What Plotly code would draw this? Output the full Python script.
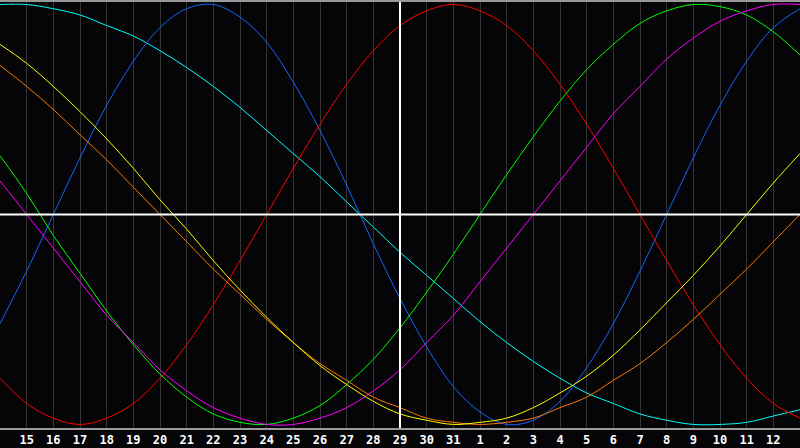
import plotly.graph_objs as go

# Days shown on the chart (0 = the 14th, 30 = the 13th of next month)
days = list(range(0, 31))
tick_pos = list(range(1, 30))
day_labels = ['15', '16', '17', '18', '19', '20', '21', '22', '23', '24', '25', '26', '27', '28',
              '29', '30', '31', '1', '2', '3', '4', '5', '6', '7', '8', '9', '10', '11', '12']

# Cycle values (percent), one per day
red = [-78, -90, -97, -100, -97, -90, -78, -62, -43, -22, 0, 22, 43, 62, 78, 90,
       97, 100, 97, 90, 78, 62, 43, 22, 0, -22, -43, -62, -78, -90, -97]
blue = [-52, -27, 0, 27, 52, 73, 89, 98, 100, 94, 82, 63, 40, 14, -14, -40,
        -63, -82, -94, -100, -98, -89, -73, -52, -27, 0, 27, 52, 73, 89, 98]
green = [28, 10, -10, -28, -46, -62, -76, -87, -95, -99, -100, -97, -91, -81, -69, -54,
         -37, -19, 0, 19, 37, 54, 69, 81, 91, 97, 100, 99, 95, 87, 76]
magenta = [16, 0, -16, -32, -48, -61, -74, -84, -92, -97, -100, -100, -97, -92, -84, -74,
           -61, -48, -32, -16, 0, 16, 32, 48, 61, 74, 84, 92, 97, 100, 100]
yellow = [81, 72, 61, 49, 36, 22, 7, -7, -22, -36, -49, -61, -72, -81, -89, -95,
          -98, -100, -99, -97, -92, -85, -77, -67, -55, -42, -29, -15, 0, 15, 29]
orange = [71, 61, 50, 38, 26, 13, 0, -13, -26, -38, -50, -61, -71, -79, -87, -92,
          -97, -99, -100, -99, -97, -92, -87, -79, -71, -61, -50, -38, -26, -13, 0]
cyan = [100, 100, 98, 95, 90, 85, 78, 70, 61, 51, 40, 29, 18, 6, -6, -18,
        -29, -40, -51, -61, -70, -78, -85, -90, -95, -98, -100, -100, -99, -96, -93]

series = [
    (cyan, '#00ffff'),
    (blue, '#1166ff'),
    (red, '#ff0000'),
    (green, '#00ff00'),
    (magenta, '#ff00ff'),
    (orange, '#ff7700'),
    (yellow, '#ffff00'),
]

fig = go.Figure()
for vals, col in series:
    fig.add_trace(go.Scatter(x=days, y=vals, mode='lines',
                             line=dict(color=col, width=1, shape='spline'),
                             showlegend=False, hoverinfo='skip'))

# white cross: zero line and "today"
fig.add_shape(type='line', x0=0, x1=30, y0=0, y1=0, line=dict(color='white', width=2))
fig.add_shape(type='line', x0=15, x1=15, y0=-102, y1=102, line=dict(color='white', width=2))

fig.update_layout(
    width=800, height=448,
    margin=dict(l=0, r=0, t=0, b=20),
    paper_bgcolor='#050507',
    plot_bgcolor='#050507',
)
fig.update_xaxes(
    range=[0, 30], tickmode='array', tickvals=tick_pos, ticktext=day_labels,
    showgrid=True, gridcolor='#333333', gridwidth=1, zeroline=False,
    showline=True, linecolor='#9a9a9a', linewidth=2, ticks='', mirror=True,
    tickfont=dict(family='DejaVu Sans Mono', size=12, color='white', weight='bold'),
    ticklabelstandoff=0,
)
fig.update_yaxes(
    range=[-101.7, 101.2], showgrid=False, zeroline=False, showticklabels=False,
    showline=True, linecolor='#9a9a9a', linewidth=2, mirror=False,
)

# drop the browser's default page margin so the chart fills the window
fig.write_html("out.html", config={'displayModeBar': False},
               post_script="document.body.style.margin='0';document.body.style.background='#050507';")
